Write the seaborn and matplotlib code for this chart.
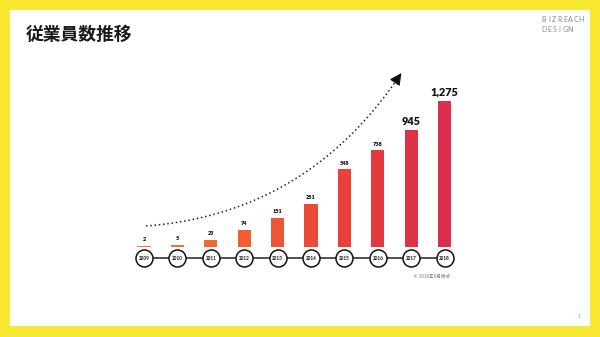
import numpy as np
import matplotlib
matplotlib.use("Agg")
import matplotlib.pyplot as plt
from matplotlib.patches import Rectangle
import seaborn as sns

# ---- data ----
years = ["2009", "2010", "2011", "2012", "2013", "2014", "2015", "2016", "2017", "2018"]
employees = [2, 5, 23, 74, 151, 251, 548, 738, 945, 1275]
value_labels = ["2", "5", "23", "74", "151", "251", "548", "738", "945", "1,275"]
bar_colors = ["#F07D32", "#EF7432", "#EE6A32", "#EE5F33", "#EC5535", "#EA4A37",
              "#E7413A", "#E2393F", "#DE3246", "#DB2F4E"]
title = "従業員数推移"
note = "※ 2018年9月時点"

sns.set_theme(style="white")
plt.rcParams["font.family"] = ["Lato", "DejaVu Sans"]

W, H = 600, 337
fig = plt.figure(figsize=(6, 3.37), dpi=100)
yellow = "#F8E832"
fig.patch.set_facecolor(yellow)

# background / decoration axes in pixel coordinates
bg = fig.add_axes([0, 0, 1, 1], zorder=0)
bg.set_xlim(0, W)
bg.set_ylim(H, 0)
bg.axis("off")
bg.add_patch(Rectangle((10, 10), 580, 316, facecolor="white", edgecolor="none"))

bg.text(26, 35, title, fontsize=12.8, fontweight="bold", va="center", ha="left",
        family=["Noto Sans CJK JP", "DejaVu Sans"], color="#1a1a1a")

# BIZREACH DESIGN logo text (letter-spaced)
for row, word in enumerate(["BIZREACH", "DESIGN"]):
    for i, ch in enumerate(word):
        bg.text(543.5 + i * 5.4, 20 + row * 9.5, ch, fontsize=5, color="#8a8a8a",
                ha="center", va="center", family=["Lato", "DejaVu Sans"])

bg.text(579, 317, "1", fontsize=3.5, color="#999999", ha="center", va="center")
bg.text(413, 276, note, fontsize=3.3, color="#777777", ha="left", va="center",
        family=["Noto Sans CJK JP", "DejaVu Sans"])

# dotted growth arrow
P0 = np.array([146.0, 226.0]); C = np.array([305.0, 214.0]); P2 = np.array([398.0, 78.0])
t = np.linspace(0, 1, 200)[:, None]
curve = (1 - t) ** 2 * P0 + 2 * t * (1 - t) * C + t ** 2 * P2
bg.plot(curve[:, 0], curve[:, 1], color="#222222", lw=1.1, linestyle=(0, (1, 1.8)))
d = P2 - C
d = d / np.linalg.norm(d)
bg.annotate("", xy=tuple(P2 + d * 6), xytext=tuple(P2 - d * 1),
            arrowprops=dict(arrowstyle="-|>,head_length=0.6,head_width=0.3",
                            color="#111111", lw=0.8, shrinkA=0, shrinkB=0))

# bar chart axes
left = 127.3 / W
width = 334 / W
bottom = (H - 247) / H
height = 146 / H
ax = fig.add_axes([left, bottom, width, height], zorder=2)
ax.patch.set_alpha(0)
sns.barplot(x=years, y=employees, hue=years, palette=bar_colors, legend=False,
            width=0.4, ax=ax, saturation=1, edgecolor="none")
p = 0.75
ax.set_yscale("function", functions=(lambda v: np.power(np.clip(v, 0, None), p),
                                      lambda v: np.power(np.clip(v, 0, None), 1 / p)))
ax.set_ylim(0, 1275)
ax.set_xlim(-0.5, 9.5)
ax.axis("off")
for i, (v, lab) in enumerate(zip(employees, value_labels)):
    big = v >= 900
    ax.annotate(lab, (i, v), xytext=(0, 2.2 if big else 2.6), textcoords="offset points",
                ha="center", va="bottom", fontsize=7.8 if big else 4,
                fontweight="heavy", color="#111111")

# timeline axes
ax2 = fig.add_axes([left, (H - 270) / H, width, 24 / H], zorder=3)
ax2.patch.set_alpha(0)
xs = np.arange(len(years))
ax2.plot([xs[0], xs[-1]], [0, 0], color="#222222", lw=1.1, zorder=1)
sns.scatterplot(x=xs, y=np.zeros(len(xs)), s=150, color="white", edgecolor="#111111",
                linewidth=1.1, ax=ax2, zorder=3, legend=False)
for i, y in enumerate(years):
    ax2.text(i, 0, y, fontsize=3.3, fontweight="bold", ha="center", va="center",
             color="#111111", zorder=4)
ax2.set_xlim(-0.5, 9.5)
ax2.set_ylim(-1, 1)
ax2.axis("off")

fig.savefig("out.png", dpi=100, facecolor=fig.get_facecolor())
